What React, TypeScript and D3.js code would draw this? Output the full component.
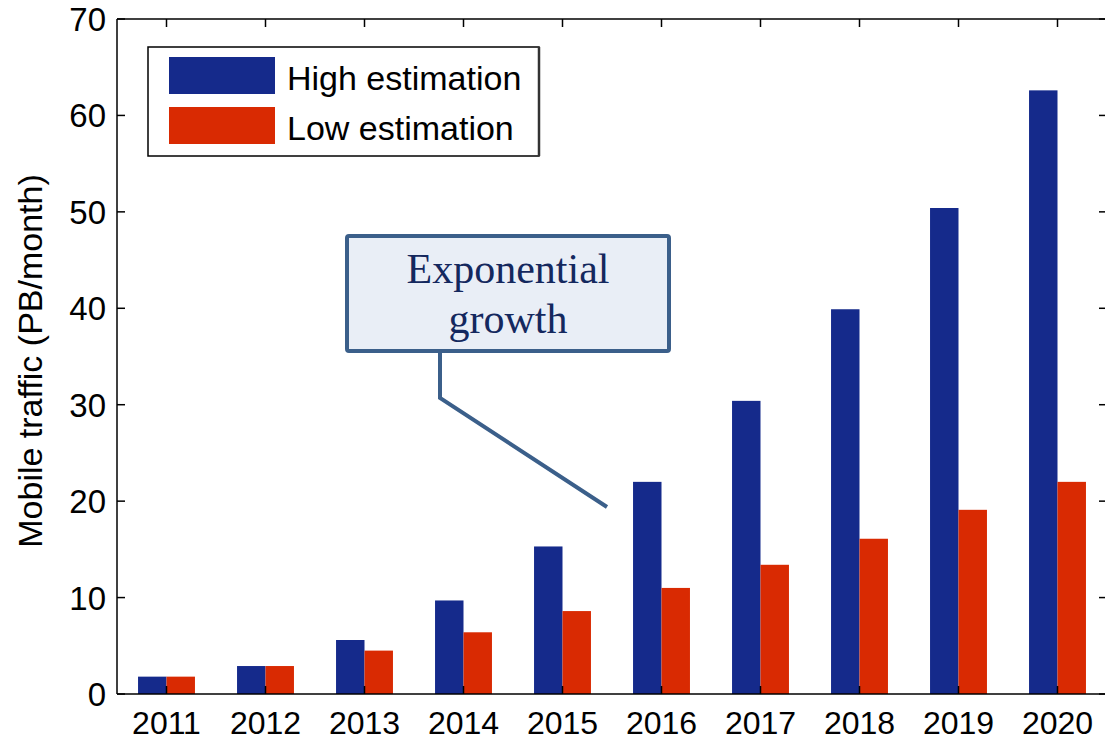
import { useEffect, useRef } from 'react';
import * as d3 from 'd3';

const years = ['2011', '2012', '2013', '2014', '2015', '2016', '2017', '2018', '2019', '2020'];
const highEstimation = [1.8, 2.9, 5.6, 9.7, 15.3, 22.0, 30.4, 39.9, 50.4, 62.6];
const lowEstimation = [1.8, 2.9, 4.5, 6.4, 8.6, 11.0, 13.4, 16.1, 19.1, 22.0];
const seriesNames = ['High estimation', 'Low estimation'];
const seriesColors = ['#152a8b', '#d92a02'];
const yTicks = [0, 10, 20, 30, 40, 50, 60, 70];

const WIDTH = 1105;
const HEIGHT = 742;
const FONT = '"Liberation Sans", Arial, sans-serif';

export default function App() {
  const svgRef = useRef<SVGSVGElement | null>(null);

  useEffect(() => {
    if (!svgRef.current) return;
    const svg = d3.select(svgRef.current);
    svg.selectAll('*').remove();

    // right edge of the axes box sits just past the picture
    const plot = { left: 117, right: 1107, top: 19, bottom: 694 };

    const x = d3.scaleBand<string>().domain(years).range([plot.left, plot.right]).padding(0);
    const groupWidth = x.bandwidth() * 0.575;
    const xs = d3.scaleBand<string>().domain(seriesNames).range([0, groupWidth]).padding(0);
    const y = d3.scaleLinear().domain([0, 70]).range([plot.bottom, plot.top]);

    svg.append('rect').attr('width', WIDTH).attr('height', HEIGHT).attr('fill', '#ffffff');

    // bars
    const rows = years.map((year, i) => ({ year, values: [highEstimation[i], lowEstimation[i]] }));
    const groups = svg
      .append('g')
      .selectAll('g')
      .data(rows)
      .enter()
      .append('g')
      .attr('transform', (d) => `translate(${(x(d.year) ?? 0) + (x.bandwidth() - groupWidth) / 2},0)`);

    groups
      .selectAll('rect')
      .data((d) => d.values.map((v, k) => ({ v, k })))
      .enter()
      .append('rect')
      .attr('x', (d) => xs(seriesNames[d.k]) ?? 0)
      .attr('y', (d) => y(d.v))
      .attr('width', xs.bandwidth())
      .attr('height', (d) => plot.bottom - y(d.v))
      .attr('fill', (d) => seriesColors[d.k]);

    // axes frame
    const axisG = svg.append('g').attr('stroke', '#000').attr('stroke-width', 1.5).attr('fill', 'none');
    axisG.append('line').attr('x1', plot.left).attr('x2', plot.left).attr('y1', plot.top).attr('y2', plot.bottom);
    axisG.append('line').attr('x1', plot.left).attr('x2', plot.right).attr('y1', plot.top).attr('y2', plot.top);
    axisG.append('line').attr('x1', plot.left).attr('x2', plot.right).attr('y1', plot.bottom).attr('y2', plot.bottom);
    axisG.append('line').attr('x1', plot.right).attr('x2', plot.right).attr('y1', plot.top).attr('y2', plot.bottom);

    const tickLen = 8;
    yTicks.forEach((t) => {
      axisG.append('line').attr('x1', plot.left).attr('x2', plot.left + tickLen).attr('y1', y(t)).attr('y2', y(t));
      axisG.append('line').attr('x1', plot.right - tickLen).attr('x2', plot.right).attr('y1', y(t)).attr('y2', y(t));
    });
    years.forEach((yr) => {
      const cx = (x(yr) ?? 0) + x.bandwidth() / 2;
      axisG.append('line').attr('x1', cx).attr('x2', cx).attr('y1', plot.top).attr('y2', plot.top + tickLen);
      axisG.append('line').attr('x1', cx).attr('x2', cx).attr('y1', plot.bottom - tickLen).attr('y2', plot.bottom);
    });

    // tick labels
    svg
      .append('g')
      .selectAll('text')
      .data(yTicks)
      .enter()
      .append('text')
      .attr('x', plot.left - 11)
      .attr('y', (t) => y(t) + 12)
      .attr('text-anchor', 'end')
      .attr('font-family', FONT)
      .attr('font-size', 33)
      .attr('fill', '#000')
      .text((t) => t);

    svg
      .append('g')
      .selectAll('text')
      .data(years)
      .enter()
      .append('text')
      .attr('x', (yr) => (x(yr) ?? 0) + x.bandwidth() / 2)
      .attr('y', 734)
      .attr('text-anchor', 'middle')
      .attr('font-family', FONT)
      .attr('font-size', 32)
      .attr('fill', '#000')
      .text((yr) => yr);

    svg
      .append('text')
      .attr('transform', 'translate(42,361) rotate(-90)')
      .attr('text-anchor', 'middle')
      .attr('font-family', FONT)
      .attr('font-size', 34)
      .attr('fill', '#000')
      .text('Mobile traffic (PB/month)');

    // legend
    const legend = svg.append('g');
    legend
      .append('rect')
      .attr('x', 148)
      .attr('y', 47)
      .attr('width', 391)
      .attr('height', 109)
      .attr('fill', '#fff')
      .attr('stroke', '#000')
      .attr('stroke-width', 1.5);
    legend.append('line').attr('x1', 539).attr('x2', 539).attr('y1', 47).attr('y2', 156).attr('stroke', '#333').attr('stroke-width', 2.5);
    seriesNames.forEach((name, k) => {
      legend
        .append('rect')
        .attr('x', 169)
        .attr('y', 57 + k * 50)
        .attr('width', 106)
        .attr('height', 37)
        .attr('fill', seriesColors[k]);
      legend
        .append('text')
        .attr('x', 287)
        .attr('y', 90 + k * 50)
        .attr('font-family', FONT)
        .attr('font-size', 34)
        .attr('fill', '#000')
        .text(name);
    });

    // callout
    const callout = svg.append('g');
    callout
      .append('path')
      .attr('d', 'M440,351 L440,398 L607,507')
      .attr('fill', 'none')
      .attr('stroke', '#3b5f8a')
      .attr('stroke-width', 4);
    callout
      .append('rect')
      .attr('x', 347)
      .attr('y', 236)
      .attr('width', 322)
      .attr('height', 115)
      .attr('rx', 2)
      .attr('fill', '#e9eef6')
      .attr('stroke', '#3b5f8a')
      .attr('stroke-width', 4);
    ['Exponential', 'growth'].forEach((line, i) => {
      callout
        .append('text')
        .attr('x', 508)
        .attr('y', 283 + i * 50)
        .attr('text-anchor', 'middle')
        .attr('font-family', '"Liberation Serif", "Times New Roman", serif')
        .attr('font-size', 42)
        .attr('fill', '#14285e')
        .text(line);
    });
  }, []);

  return (
    <svg
      ref={svgRef}
      width={WIDTH}
      height={HEIGHT}
      viewBox={`0 0 ${WIDTH} ${HEIGHT}`}
      style={{ position: 'absolute', left: 0, top: 0 }}
    />
  );
}
